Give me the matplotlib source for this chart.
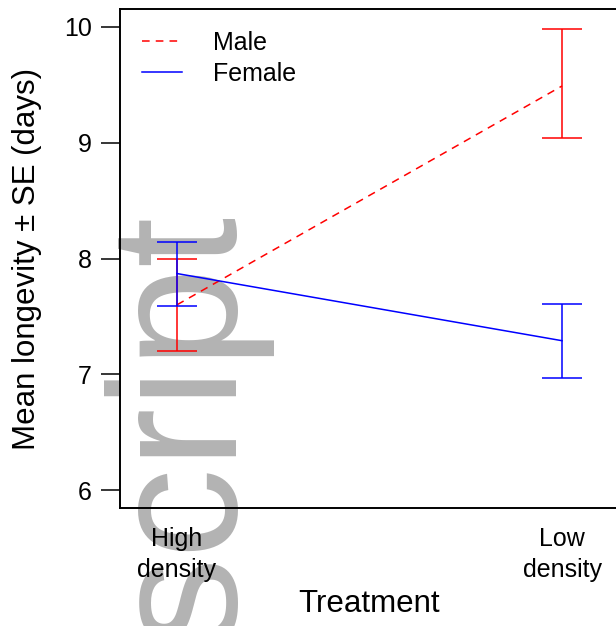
import matplotlib
matplotlib.use("Agg")
import matplotlib.pyplot as plt

plt.rcParams.update({
    "font.family": ["Liberation Sans", "DejaVu Sans"],
    "axes.linewidth": 1.4,
})

# data
treatments = ["High\ndensity", "Low\ndensity"]
x_pos = [1, 2]
male_mean = [7.60, 9.49]
male_upper = [8.00, 9.98]
male_lower = [7.20, 9.04]
female_mean = [7.87, 7.29]
female_upper = [8.14, 7.61]
female_lower = [7.59, 6.97]

W, H = 616, 626
fig = plt.figure(figsize=(W / 100, H / 100), dpi=100)
# axes box runs past the right edge, as in the reference
ax = fig.add_axes([120 / W, 118 / H, 499 / W, 499 / H])
ax.set_facecolor("none")

# grey watermark behind everything
fig.text(232 / W, (H - 211) / H, "script", fontsize=130, color="#b3b3b3",
         rotation=90, rotation_mode="anchor", ha="right", va="baseline",
         zorder=-1)

for mean, lo, hi, col, ls, name in (
        (male_mean, male_lower, male_upper, "red", (0, (5, 4)), "Male"),
        (female_mean, female_lower, female_upper, "blue", "-", "Female")):
    ax.plot(x_pos, mean, color=col, lw=1.1, ls=ls, label=name)
    yerr = [[m - l for m, l in zip(mean, lo)], [h - m for m, h in zip(mean, hi)]]
    ax.errorbar(x_pos, mean, yerr=yerr, fmt="none", ecolor=col, elinewidth=1.1,
                capsize=14.4, capthick=1.1)

ax.set_xlim(0.852, 2.148)
ax.set_ylim(5.845, 10.155)
ax.set_yticks([6, 7, 8, 9, 10])
ax.set_xticks(x_pos)
ax.set_xticklabels(treatments, fontsize=18, linespacing=1.35)
ax.tick_params(axis="x", length=0, pad=14)
ax.tick_params(axis="y", length=13.5, width=1.1, pad=7, labelsize=18)

ax.set_ylabel("Mean longevity \u00b1 SE (days)", fontsize=22.5)
ax.yaxis.set_label_coords(-0.157, 0.5)
ax.set_xlabel("Treatment", fontsize=22.5)
ax.xaxis.set_label_coords(0.5, -0.163)

ax.legend(loc="upper left", bbox_to_anchor=(0.044, 0.956), frameon=False,
          fontsize=18, handlelength=1.6, handletextpad=1.24, borderpad=0,
          borderaxespad=0, labelspacing=0.27)

fig.savefig("out.png", dpi=100)
